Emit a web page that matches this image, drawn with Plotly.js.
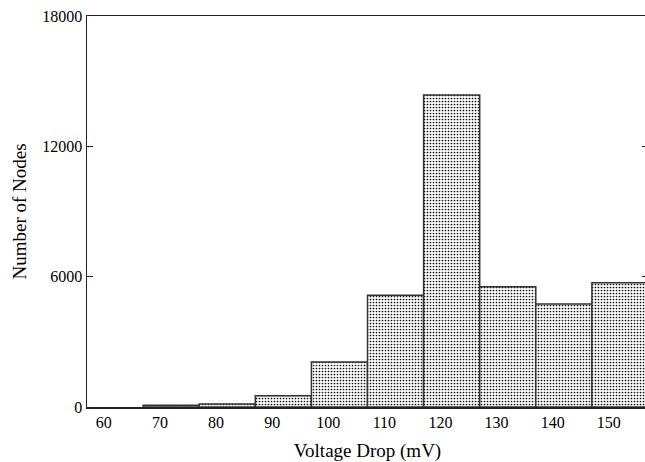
<!DOCTYPE html>
<html>
<head>
<meta charset="utf-8">
<script src="https://cdn.plot.ly/plotly-3.0.1.min.js"></script>
<style>
html, body { margin: 0; padding: 0; overflow: hidden; background: #fff; }
#chart { width: 650px; height: 462px; }
</style>
</head>
<body>
<div id="chart"></div>
<script>
// Bin centres (mV) and counts
const binCenters = [72, 82, 92, 102, 112, 122, 132, 142, 152];
const nodeCounts = [80, 140, 520, 2070, 5140, 14360, 5540, 4740, 5720];
const xTicks = [60, 70, 80, 90, 100, 110, 120, 130, 140, 150];
const yTicks = [0, 6000, 12000, 18000];

const trace = {
  type: 'bar',
  x: binCenters,
  y: nodeCounts,
  width: 10,
  marker: {
    color: '#ffffff',
    line: { color: '#333333', width: 1.5 },
    pattern: { shape: '.', fgcolor: '#000000', bgcolor: '#ffffff', size: 3, solidity: 0.25 }
  },
  hoverinfo: 'none'
};

const family = '"Liberation Serif", "Times New Roman", serif';
const tickFont = { family: family, color: '#000', size: 16 };
const titleFont = { family: family, color: '#000', size: 19 };

const layout = {
  width: 650,
  height: 462,
  margin: { l: 87, r: 2, t: 16, b: 55 },
  paper_bgcolor: '#fff',
  plot_bgcolor: '#fff',
  showlegend: false,
  font: tickFont,
  bargap: 0,
  xaxis: {
    range: [57, 157],
    tickvals: xTicks,
    ticktext: xTicks.map(String),
    ticks: '',
    showgrid: false,
    zeroline: false,
    showline: true,
    linecolor: '#222',
    linewidth: 1.5,
    mirror: true,
    tickfont: tickFont,
    title: { text: 'Voltage Drop (mV)', font: titleFont, standoff: 14 }
  },
  yaxis: {
    range: [0, 18000],
    tickvals: yTicks,
    ticktext: yTicks.map(String),
    ticks: 'inside',
    ticklen: 6,
    tickwidth: 1,
    tickcolor: '#222',
    showgrid: false,
    zeroline: false,
    showline: true,
    linecolor: '#222',
    linewidth: 1.5,
    mirror: 'ticks',
    tickfont: tickFont,
    title: { text: 'Number of Nodes', font: titleFont, standoff: 10 }
  }
};

Plotly.newPlot('chart', [trace], layout, { displayModeBar: false, staticPlot: true });
</script>
</body>
</html>
